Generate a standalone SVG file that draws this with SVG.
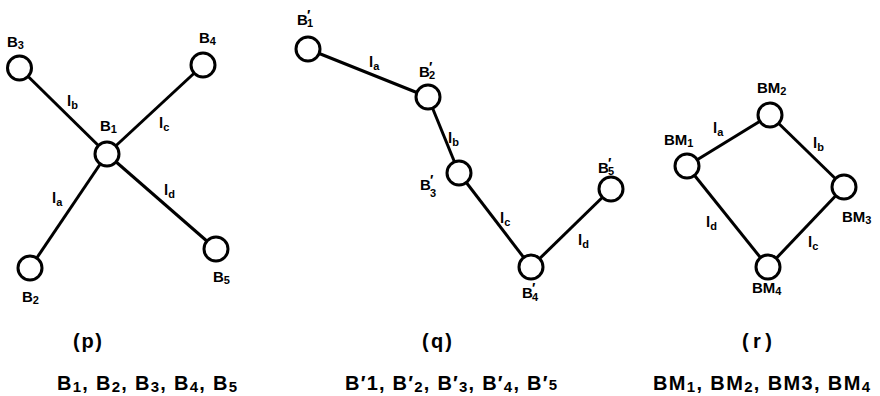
<svg xmlns="http://www.w3.org/2000/svg" width="880" height="396" viewBox="0 0 880 396">
<style>
.edge{stroke:#000;stroke-width:3;fill:none}
.node circle{fill:#fff;stroke:#000;stroke-width:3}
text{font-family:"Liberation Sans",Arial,sans-serif;font-weight:bold;fill:#000}
.lbl{font-size:15px}
.sub{font-size:11px}
.pr{font-size:14px}
.cap{font-size:20px}
.capsub{font-size:15px}
</style>
<rect width="880" height="396" fill="#fff"/>
<g id="connectors">
  <line class="edge" x1="107" y1="154" x2="19.5" y2="68"/>
  <line class="edge" x1="107" y1="154" x2="203" y2="65"/>
  <line class="edge" x1="107" y1="154" x2="30" y2="268"/>
  <line class="edge" x1="107" y1="154" x2="216" y2="249"/>
  <line class="edge" x1="308" y1="49" x2="428" y2="97"/>
  <line class="edge" x1="428" y1="97" x2="459" y2="173"/>
  <line class="edge" x1="459" y1="173" x2="531" y2="267"/>
  <line class="edge" x1="531" y1="267" x2="611" y2="189"/>
  <line class="edge" x1="687" y1="166" x2="770" y2="115"/>
  <line class="edge" x1="770" y1="115" x2="844" y2="187"/>
  <line class="edge" x1="844" y1="187" x2="768" y2="267"/>
  <line class="edge" x1="768" y1="267" x2="687" y2="166"/>
</g>
<g id="edge-labels" class="lbl">
  <text x="67" y="106">l<tspan class="sub" dy="3">b</tspan></text>
  <text x="159" y="128">l<tspan class="sub" dy="3">c</tspan></text>
  <text x="52" y="203">l<tspan class="sub" dy="3">a</tspan></text>
  <text x="164" y="195">l<tspan class="sub" dy="3">d</tspan></text>
  <text x="369" y="67">l<tspan class="sub" dy="3">a</tspan></text>
  <text x="448" y="143">l<tspan class="sub" dy="3">b</tspan></text>
  <text x="500" y="223">l<tspan class="sub" dy="3">c</tspan></text>
  <text x="578" y="245">l<tspan class="sub" dy="3">d</tspan></text>
  <text x="713" y="133">l<tspan class="sub" dy="3">a</tspan></text>
  <text x="813" y="148">l<tspan class="sub" dy="3">b</tspan></text>
  <text x="808" y="247">l<tspan class="sub" dy="3">c</tspan></text>
  <text x="706" y="227">l<tspan class="sub" dy="3">d</tspan></text>
</g>
<g id="p-B1" class="node"><circle cx="107" cy="154" r="12"/><text class="lbl" x="100" y="131">B<tspan class="sub" dy="2">1</tspan></text></g>
<g id="p-B2" class="node"><circle cx="30" cy="268" r="12"/><text class="lbl" x="22" y="302">B<tspan class="sub" dy="2">2</tspan></text></g>
<g id="p-B3" class="node"><circle cx="19.5" cy="68" r="12"/><text class="lbl" x="7" y="47">B<tspan class="sub" dy="2">3</tspan></text></g>
<g id="p-B4" class="node"><circle cx="203" cy="65" r="12"/><text class="lbl" x="199" y="43">B<tspan class="sub" dy="2">4</tspan></text></g>
<g id="p-B5" class="node"><circle cx="216" cy="249" r="12"/><text class="lbl" x="213" y="282">B<tspan class="sub" dy="2">5</tspan></text></g>

<g id="q-B1" class="node"><circle cx="308" cy="49" r="12"/><text class="lbl" x="297" y="25">B<tspan class="pr" x="307" dy="-5">′</tspan><tspan class="sub" x="307" dy="7">1</tspan></text></g>
<g id="q-B2" class="node"><circle cx="428" cy="97" r="12"/><text class="lbl" x="419" y="77">B<tspan class="pr" x="429" dy="-5">′</tspan><tspan class="sub" x="429" dy="7">2</tspan></text></g>
<g id="q-B3" class="node"><circle cx="459" cy="173" r="12"/><text class="lbl" x="420" y="190">B<tspan class="pr" x="430" dy="-5">′</tspan><tspan class="sub" x="430" dy="12">3</tspan></text></g>
<g id="q-B4" class="node"><circle cx="531" cy="267" r="12"/><text class="lbl" x="522" y="298">B<tspan class="pr" x="532" dy="-5">′</tspan><tspan class="sub" x="532" dy="8">4</tspan></text></g>
<g id="q-B5" class="node"><circle cx="611" cy="189" r="12"/><text class="lbl" x="598" y="173">B<tspan class="pr" x="608" dy="-5">′</tspan><tspan class="sub" x="608" dy="7">5</tspan></text></g>

<g id="r-BM1" class="node"><circle cx="687" cy="166" r="12"/><text class="lbl" x="664" y="145">BM<tspan class="sub" dy="2">1</tspan></text></g>
<g id="r-BM2" class="node"><circle cx="770" cy="115" r="12"/><text class="lbl" x="757" y="93">BM<tspan class="sub" dy="2">2</tspan></text></g>
<g id="r-BM3" class="node"><circle cx="844" cy="187" r="12"/><text class="lbl" x="842" y="222">BM<tspan class="sub" dy="2">3</tspan></text></g>
<g id="r-BM4" class="node"><circle cx="768" cy="267" r="12"/><text class="lbl" x="752" y="293">BM<tspan class="sub" dy="2">4</tspan></text></g>

<g id="captions">
  <text class="cap" x="73" y="348" textLength="29" lengthAdjust="spacing">(p)</text>
  <text class="cap" x="422" y="348" textLength="30" lengthAdjust="spacing">(q)</text>
  <text class="cap" x="742" y="348" textLength="30" lengthAdjust="spacing">(r)</text>
  <text class="cap" x="57" y="390" textLength="180" lengthAdjust="spacing">B<tspan class="capsub" dy="2">1</tspan><tspan dy="-2">, B</tspan><tspan class="capsub" dy="2">2</tspan><tspan dy="-2">, B</tspan><tspan class="capsub" dy="2">3</tspan><tspan dy="-2">, B</tspan><tspan class="capsub" dy="2">4</tspan><tspan dy="-2">, B</tspan><tspan class="capsub" dy="2">5</tspan></text>
  <text class="cap" x="345" y="390" textLength="212" lengthAdjust="spacing">B′1, B′<tspan class="capsub" dy="2">2</tspan><tspan dy="-2">, B′</tspan><tspan class="capsub" dy="2">3</tspan><tspan dy="-2">, B′</tspan><tspan class="capsub" dy="2">4</tspan><tspan dy="-2">, B′</tspan><tspan class="capsub">5</tspan></text>
  <text class="cap" x="653" y="390" textLength="217" lengthAdjust="spacing">BM<tspan class="capsub" dy="2">1</tspan><tspan dy="-2">, BM</tspan><tspan class="capsub" dy="2">2</tspan><tspan dy="-2">, BM3, BM</tspan><tspan class="capsub" dy="2">4</tspan></text>
</g>
</svg>
